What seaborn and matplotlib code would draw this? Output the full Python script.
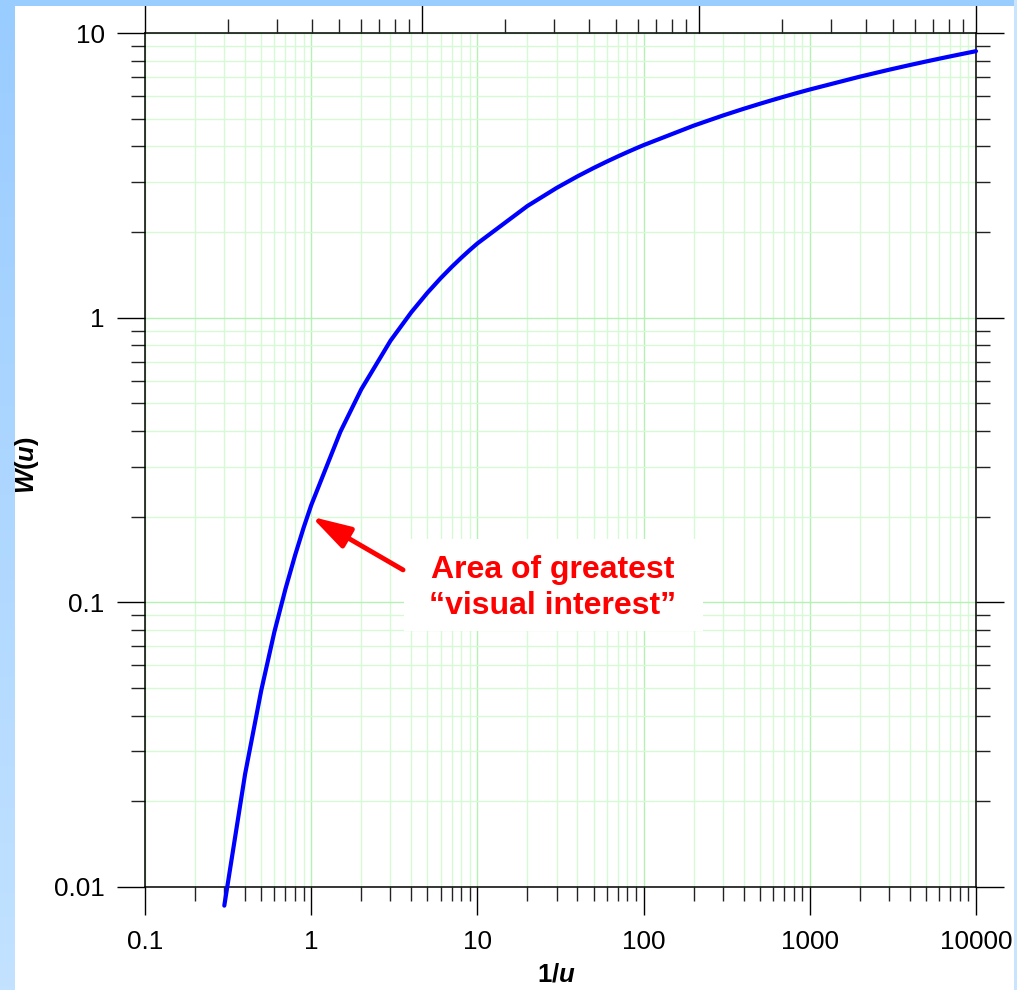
import numpy as np
import pandas as pd
import matplotlib
matplotlib.use("Agg")
import matplotlib.pyplot as plt
import matplotlib.ticker as mticker
from matplotlib.patches import Rectangle
from matplotlib.colors import LinearSegmentedColormap
import seaborn as sns

# ---- data ----
inv_u = [0.3, 0.4, 0.5, 0.6, 0.7, 0.8, 0.9, 1, 1.5, 2, 3, 4, 5, 6, 7, 8, 9, 10,
         20, 30, 40, 50, 60, 70, 80, 90, 100, 200, 300, 400, 500, 600, 700, 800,
         900, 1000, 2000, 3000, 4000, 5000, 6000, 7000, 8000, 9000, 10000]
W_u = [0.0086, 0.0249, 0.0489, 0.0786, 0.1114, 0.1464, 0.1828, 0.2194, 0.398,
       0.5598, 0.830, 1.0443, 1.2227, 1.3745, 1.5066, 1.6234, 1.7281, 1.8229,
       2.4679, 2.8570, 3.1365, 3.3547, 3.5337, 3.6855, 3.8172, 3.9337, 4.0379,
       4.7261, 5.1299, 5.4168, 5.6394, 5.8214, 5.9753, 6.1087, 6.2263, 6.3315,
       7.0242, 7.4295, 7.7171, 7.9402, 8.1225, 8.2766, 8.4101, 8.5279, 8.6332]
x_ticklabels = ["0.1", "1", "10", "100", "1000", "10000"]
y_ticklabels = ["0.01", "0.1", "1", "10"]
annot_text = "Area of greatest\n\u201cvisual interest\u201d"

df = pd.DataFrame({"inv_u": inv_u, "W": W_u})

sns.set_style("white")
plt.rcParams["font.family"] = ["Liberation Sans", "DejaVu Sans"]
plt.rcParams["mathtext.fontset"] = "custom"
plt.rcParams["mathtext.rm"] = "Liberation Sans"
plt.rcParams["mathtext.it"] = "Liberation Sans:italic"
plt.rcParams["mathtext.bf"] = "Liberation Sans:bold"
plt.rcParams["mathtext.bfit"] = "Liberation Sans:italic:bold"

W_PX, H_PX = 1017, 990
fig = plt.figure(figsize=(W_PX / 100, H_PX / 100), dpi=100, facecolor="white")

# slide background strips
bg = fig.add_axes([0, 0, 15 / W_PX, 1])
grad = np.linspace(0, 1, 256).reshape(-1, 1)
cmap = LinearSegmentedColormap.from_list("bg", ["#99ccff", "#c2e2ff"])
bg.imshow(grad, aspect="auto", cmap=cmap, extent=[0, 1, 0, 1])
bg.set_axis_off()
fig.add_artist(Rectangle((0, 1 - 6 / H_PX), 1, 6 / H_PX, transform=fig.transFigure,
                         facecolor="#99ccff", edgecolor="none"))
fig.add_artist(Rectangle((1 - 3 / W_PX, 0), 3 / W_PX, 1, transform=fig.transFigure,
                         facecolor="#c8e4ff", edgecolor="none"))

L, R, T, B = 145, 976, 33, 887
ax = fig.add_axes([L / W_PX, 1 - B / H_PX, (R - L) / W_PX, (B - T) / H_PX])
ax.set_xscale("log")
ax.set_yscale("log")
ax.set_xlim(0.1, 10000)
ax.set_ylim(0.01, 10)

ax.grid(which="major", color="#b5f0b5", lw=1.0)
ax.grid(which="minor", color="#d6fad6", lw=1.0)
ax.set_axisbelow(True)

sns.lineplot(data=df, x="inv_u", y="W", ax=ax, color="#0000ff", lw=3.0,
             estimator=None, sort=False, clip_on=False, zorder=5)

fmt = mticker.FuncFormatter(lambda v, p: f"{v:g}")
ax.xaxis.set_major_locator(mticker.LogLocator(base=10, numticks=20))
ax.xaxis.set_minor_locator(mticker.LogLocator(base=10, subs=np.arange(2, 10), numticks=20))
ax.yaxis.set_major_locator(mticker.LogLocator(base=10, numticks=20))
ax.yaxis.set_minor_locator(mticker.LogLocator(base=10, subs=np.arange(2, 10), numticks=20))
ax.xaxis.set_major_formatter(fmt)
ax.yaxis.set_major_formatter(fmt)
ax.xaxis.set_minor_formatter(mticker.NullFormatter())
ax.yaxis.set_minor_formatter(mticker.NullFormatter())

ax.tick_params(axis="both", which="major", direction="out", length=20, width=1.0,
               color="black", labelsize=18.8, labelcolor="black",
               left=True, right=True, bottom=True, top=False, labelright=False)
ax.tick_params(axis="both", which="minor", direction="out", length=10, width=1.0,
               color="#222222", left=True, right=True, bottom=True, top=False)
ax.tick_params(axis="x", which="major", pad=11)
ax.tick_params(axis="y", which="major", pad=9)

for s in ax.spines.values():
    s.set_color("black")
    s.set_linewidth(1.1)
    s.set_visible(True)

# top secondary log axis (3 decades, unlabeled)
ax2 = ax.twiny()
ax2.set_xscale("log")
ax2.set_xlim(1, 1000)
ax2.xaxis.set_major_locator(mticker.LogLocator(base=10, numticks=20))
ax2.xaxis.set_minor_locator(mticker.LogLocator(base=10, subs=np.arange(2, 10), numticks=20))
ax2.xaxis.set_major_formatter(mticker.NullFormatter())
ax2.xaxis.set_minor_formatter(mticker.NullFormatter())
ax2.tick_params(axis="x", which="major", direction="out", length=20, width=1.0,
                color="black", top=True, bottom=False)
ax2.tick_params(axis="x", which="minor", direction="out", length=10, width=1.0,
                color="#222222", top=True, bottom=False)
ax2.grid(False)
for s in ax2.spines.values():
    s.set_visible(False)

ax.set_xlabel(r"$\mathbf{1/}\mathbfit{u}$", fontsize=18.5, color="black")
ax.set_ylabel(r"$\mathbfit{W}\mathbf{(}\mathbfit{u}\mathbf{)}$", fontsize=18.5, color="black")
ax.xaxis.set_label_coords((556 - L) / (R - L), (B - 962) / (B - T))
ax.yaxis.set_label_coords((41 - L) / (R - L), (B - 465) / (B - T))

# annotation box + text + arrow
ax.add_patch(Rectangle(((404 - L) / (R - L), (B - 631) / (B - T)),
                       (703 - 404) / (R - L), (631 - 539) / (B - T),
                       transform=ax.transAxes, facecolor="white",
                       edgecolor="none", zorder=3))
ax.text((553 - L) / (R - L), (B - 588) / (B - T), annot_text,
        transform=ax.transAxes, ha="center", va="center", multialignment="center",
        color="#ff0000", fontsize=23, fontweight="bold", linespacing=1.25, zorder=4)
ax.annotate("", xy=(1.0, 0.2), xytext=(3.57, 0.13), xycoords="data",
            textcoords="data", zorder=6,
            arrowprops=dict(arrowstyle="-|>,head_length=1.2,head_width=0.35",
                            mutation_scale=20, color="#ff0000", lw=3.5,
                            shrinkA=0, shrinkB=0))

fig.savefig("out.png", dpi=100, facecolor="white")
